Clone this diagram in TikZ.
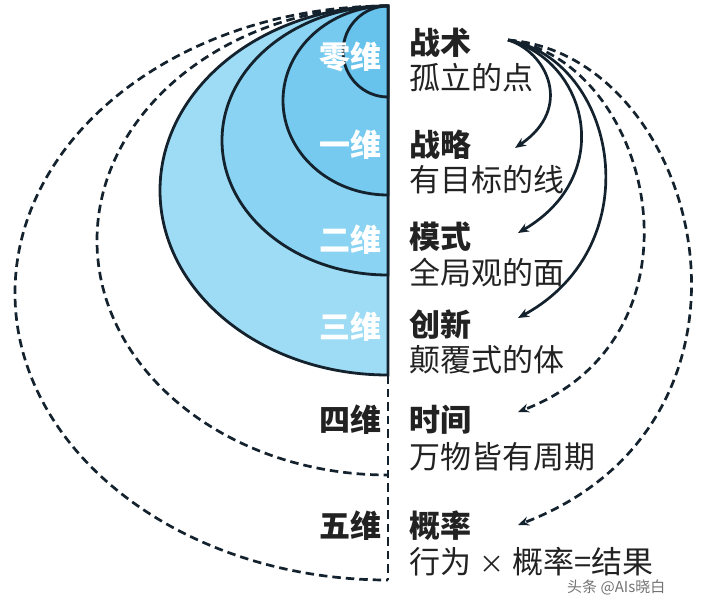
\documentclass[tikz,border=0pt]{standalone}
\usepackage{fontspec}
\setmainfont{Noto Sans CJK SC}
\usetikzlibrary{arrows.meta}
\definecolor{linec}{HTML}{14222E}
\definecolor{txt}{HTML}{222222}
\definecolor{fillA}{HTML}{67C2EC}
\definecolor{fillB}{HTML}{76CAEF}
\definecolor{fillC}{HTML}{8AD3F2}
\definecolor{fillD}{HTML}{9EDCF5}
\begin{document}
\begin{tikzpicture}[x=1pt,y=-1pt,
  line/.style={line width=2.8pt, draw=linec},
  dline/.style={line width=2.7pt, draw=linec, dash pattern=on 8.5pt off 5pt},
  title/.style={anchor=base west, inner sep=0pt, font=\fontsize{31}{31}\selectfont\bfseries, text=txt},
  sub/.style={anchor=base west, inner sep=0pt, font=\fontsize{31}{31}\selectfont, text=txt},
  dimw/.style={anchor=base east, inner sep=0pt, font=\fontsize{31}{31}\selectfont\bfseries, text=white},
  dimk/.style={dimw, text=txt},
  arr/.style={line width=2.7pt, draw=linec, -{Stealth[length=11pt,width=9pt]}},
  darr/.style={arr, dash pattern=on 8.5pt off 5pt}]
\useasboundingbox (0,0) rectangle (704,606);
% layers
\filldraw[line, fill=fillD] (388,6) arc[start angle=270,end angle=90,x radius=228,y radius=184.5] -- cycle;
\filldraw[line, fill=fillC] (388,6) arc[start angle=270,end angle=90,x radius=166,y radius=134.5] -- cycle;
\filldraw[line, fill=fillB] (388,6) arc[start angle=270,end angle=90,x radius=105,y radius=94.5] -- cycle;
\filldraw[line, fill=fillA] (388,6) arc[start angle=270,end angle=90,x radius=45,y radius=45.5] -- cycle;
\draw[dline] (388,6) arc[start angle=270,end angle=90,x radius=291,y radius=234.5];
\draw[dline] (388,6) arc[start angle=270,end angle=90,x radius=373,y radius=287];
\draw[line] (388,6) -- (388,375);
\draw[dline] (388,375) -- (388,580);
% dimension labels
\node[dimw] (d0) at (382,68) {零维};
\node[dimw] (d1) at (382,156) {一维};
\node[dimw] (d2) at (382,251) {二维};
\node[dimw] (d3) at (382,338) {三维};
\node[dimk] (d4) at (382,431) {四维};
\node[dimk] (d5) at (382,537) {五维};
% texts
\node[title] (t0) at (409,54) {战术};
\node[sub] (s0) at (409,89) {孤立的点};
\node[title] (t1) at (409,156) {战略};
\node[sub] (s1) at (409,191) {有目标的线};
\node[title] (t2) at (409,248) {模式};
\node[sub] (s2) at (409,284) {全局观的面};
\node[title] (t3) at (409,336) {创新};
\node[sub] (s3) at (409,371) {颠覆式的体};
\node[title] (t4) at (409,431) {时间};
\node[sub] (s4) at (409,468) {万物皆有周期};
\node[title] (t5) at (409,537) {概率};
\node[sub] (s5) at (409,573) {行为\hspace{8pt}{\fontsize{25}{25}\selectfont ×}\hspace{8pt}概率=结果};
\node[anchor=base west, inner sep=0pt, font=\fontsize{15}{15}\selectfont, text=black!55] (wm) at (567,592) {头条 @AIs晓白};
% arrows
\coordinate (src) at (508,40);
\coordinate (e1) at (515,148);
\coordinate (e2) at (518,233);
\coordinate (e3) at (518,318);
\coordinate (e4) at (518,412);
\coordinate (e5) at (518,525);
\draw[arr] (src) .. controls (547,52) and (574,108) .. (e1);
\draw[arr] (src) .. controls (587,60) and (617,175) .. (e2);
\draw[arr] (src) .. controls (617,60) and (652,245) .. (e3);
\draw[darr] (src) .. controls (652,60) and (717,335) .. (e4);
\draw[darr] (src) .. controls (702,55) and (792,420) .. (e5);
\end{tikzpicture}
\end{document}
